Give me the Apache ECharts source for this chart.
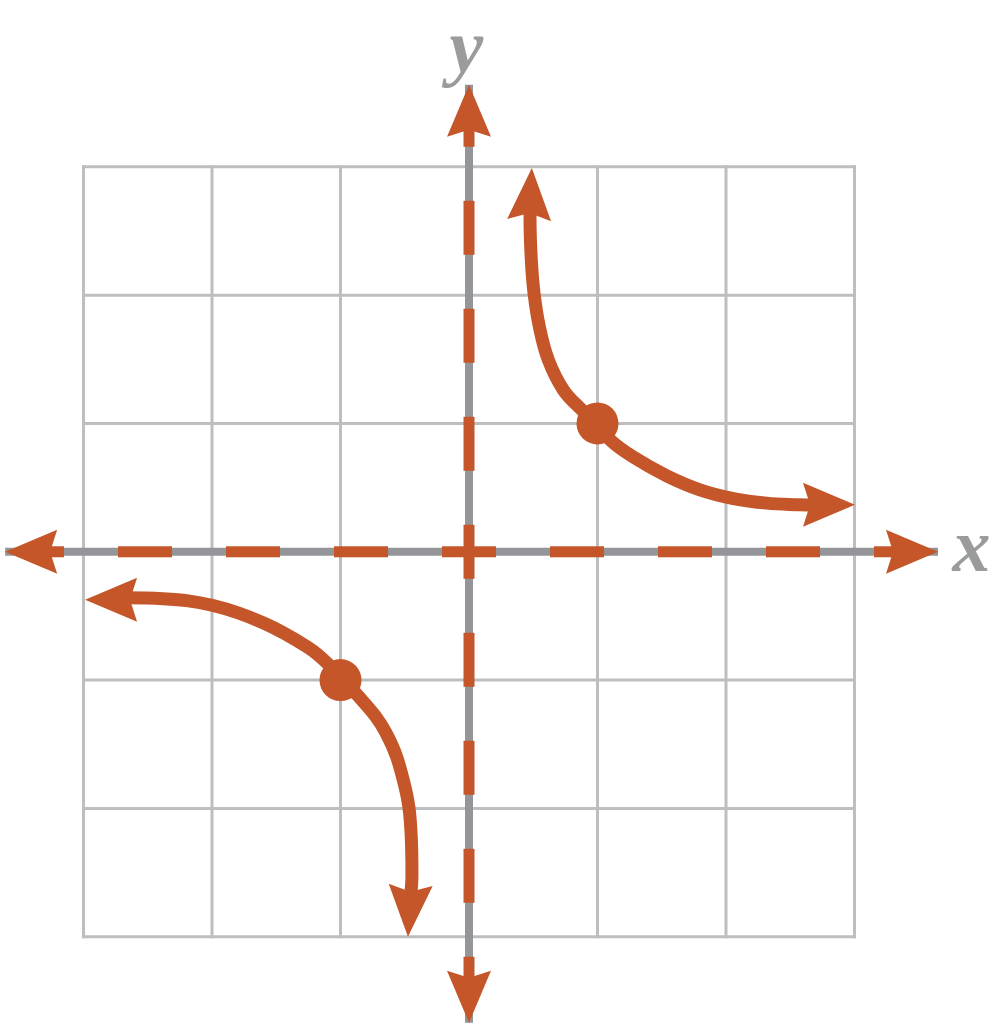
<!DOCTYPE html>
<html><head><meta charset="utf-8">
<script src="https://cdn.jsdelivr.net/npm/echarts@6/dist/echarts.min.js"></script>
<style>html,body{margin:0;padding:0;background:#fff}#c{width:993px;height:1024px}</style>
</head><body><div id="c"></div>
<script>
// ---- data ----
const viewX = [-3.65, 4.078];      // visible data window (whole canvas)
const viewY = [-3.68, 4.30];
const gridTicks = [-3, -2, -1, 0, 1, 2, 3];
const xAxisEnds = [-3.61, 3.65];
const yAxisEnds = [-3.67, 3.64];
const dashEndsX = [-3.35, 3.4];
const dashEndsY = [-3.45, 3.4];
const upperBranch = [[0.475,2.65],[0.475,2.587],[0.485,2.275],[0.506,2.016],[0.547,1.756],[0.617,1.496],[0.734,1.262],[0.864,1.120],[1,1],[1.097,0.873],[1.279,0.738],[1.539,0.592],[1.797,0.483],[2.057,0.415],[2.317,0.379],[2.576,0.366],[2.693,0.362]];
const lowerBranch = [[-2.70,-0.359],[-2.677,-0.359],[-2.381,-0.366],[-1.992,-0.419],[-1.603,-0.553],[-1.261,-0.740],[-1.10,-0.872],[-1,-1],[-0.865,-1.12],[-0.646,-1.411],[-0.506,-1.800],[-0.451,-2.190],[-0.444,-2.518],[-0.452,-2.66]];
const keyPoints = [[1,1],[-1,-1]];
// arrow tips: [x, y, direction angle in degrees, CCW from "up"]
const arrowTips = [
  [xAxisEnds[0], 0, 90], [xAxisEnds[1], 0, -90],
  [0, yAxisEnds[1], 0], [0, yAxisEnds[0], 180],
  [0.489, 2.99, -3.0], [3.004, 0.367, -90],
  [-2.988, -0.374, 90], [-0.475, -3.0, 177]
];
const axisNames = [[3.91, 0.0, 'x'], [-0.02, 3.895, 'y']];

// ---- style ----
const ORANGE = '#C4562A', AXIS_GRAY = '#939598', GRID_GRAY = '#BCBEC0', LABEL_GRAY = '#808285';
const AW = 44, AH = 52;
const arrowPath = 'path://M22,0 L44,52 L22,45 L0,52 Z';

const chart = echarts.init(document.getElementById('c'), null, {renderer: 'canvas'});

const gMin = gridTicks[0], gMax = gridTicks[gridTicks.length - 1];
const gridSeries = [];
gridTicks.forEach(v => {
  gridSeries.push({type: 'line', silent: true, symbol: 'none', z: 1,
    lineStyle: {color: GRID_GRAY, width: 3, cap: 'square'}, data: [[v, gMin], [v, gMax]]});
  gridSeries.push({type: 'line', silent: true, symbol: 'none', z: 1,
    lineStyle: {color: GRID_GRAY, width: 3, cap: 'square'}, data: [[gMin, v], [gMax, v]]});
});

const arrowSeries = arrowTips.map(t => {
  const th = t[2] * Math.PI / 180;
  return {
    type: 'scatter', clip: false, silent: true, z: 5,
    symbol: arrowPath, symbolSize: [AW, AH], symbolRotate: t[2],
    symbolOffset: [AH/2 * Math.sin(th), AH/2 * Math.cos(th)],
    itemStyle: {color: ORANGE, opacity: 1},
    data: [[t[0], t[1]]]
  };
});

const dashStyle = {color: ORANGE, width: 11, type: [54, 54], dashOffset: 27, cap: 'butt'};
function dashSeries(pts) {
  return {type: 'line', clip: false, silent: true, symbol: 'none', z: 3,
    lineStyle: dashStyle, data: pts};
}

const option = {
  animation: false,
  backgroundColor: '#ffffff',
  grid: {left: 0, right: 0, top: 0, bottom: 0, containLabel: false},
  xAxis: {type: 'value', min: viewX[0], max: viewX[1], show: false, splitLine: {show: false}},
  yAxis: {type: 'value', min: viewY[0], max: viewY[1], show: false, splitLine: {show: false}},
  series: [
    ...gridSeries,
    {type: 'line', clip: false, silent: true, symbol: 'none', z: 2,
      lineStyle: {color: AXIS_GRAY, width: 8, cap: 'butt'},
      data: [[xAxisEnds[0], 0], [xAxisEnds[1], 0]]},
    {type: 'line', clip: false, silent: true, symbol: 'none', z: 2,
      lineStyle: {color: AXIS_GRAY, width: 8, cap: 'butt'},
      data: [[0, yAxisEnds[0]], [0, yAxisEnds[1]]]},
    dashSeries([[0, 0], [dashEndsX[1], 0]]),
    dashSeries([[0, 0], [dashEndsX[0], 0]]),
    dashSeries([[0, 0], [0, dashEndsY[1]]]),
    dashSeries([[0, 0], [0, dashEndsY[0]]]),
    {type: 'line', clip: false, silent: true, symbol: 'none', smooth: 0.4, z: 4,
      lineStyle: {color: ORANGE, width: 13, cap: 'butt'}, data: upperBranch},
    {type: 'line', clip: false, silent: true, symbol: 'none', smooth: 0.4, z: 4,
      lineStyle: {color: ORANGE, width: 13, cap: 'butt'}, data: lowerBranch},
    {type: 'scatter', clip: false, silent: true, z: 6, symbol: 'circle', symbolSize: 42,
      itemStyle: {color: ORANGE, opacity: 1}, data: keyPoints},
    ...arrowSeries,
    {type: 'scatter', clip: false, silent: true, z: 7, symbolSize: 1,
      itemStyle: {color: 'rgba(0,0,0,0)'},
      label: {show: true, position: 'inside', formatter: p => p.value[2],
        fontFamily: 'Liberation Serif', fontStyle: 'italic', fontWeight: 'bold',
        fontSize: 76, color: LABEL_GRAY},
      data: axisNames}
  ]
};
chart.setOption(option);
</script></body></html>
